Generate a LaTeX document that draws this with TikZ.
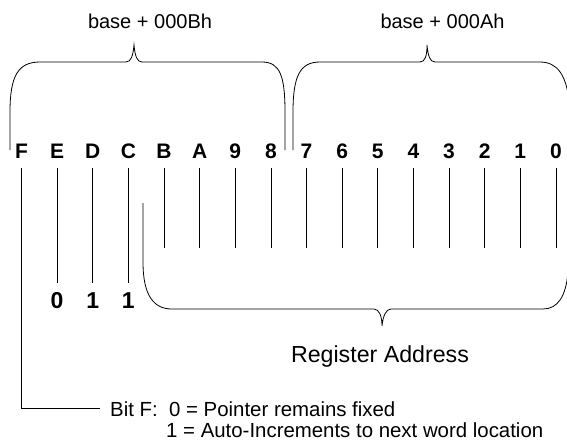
\documentclass[tikz,border=0pt]{standalone}
\usepackage{fontspec}
\setmainfont{Liberation Sans}
\begin{document}
\begin{tikzpicture}[x=1pt,y=-1pt,
  line/.style={line width=0.8pt, black},
  bitlbl/.style={font=\fontsize{21}{24}\selectfont\bfseries, anchor=base, inner sep=0pt},
  vallbl/.style={font=\fontsize{23}{26}\selectfont\bfseries, anchor=base, inner sep=0pt},
  lbl/.style={font=\fontsize{20}{24}\selectfont, inner sep=0pt},
  notelbl/.style={font=\fontsize{20.4}{24}\selectfont, inner sep=0pt, anchor=base west},
  biglbl/.style={font=\fontsize{23.2}{26}\selectfont, inner sep=0pt, anchor=base},
]
\useasboundingbox (0,0) rectangle (567,440);
\clip (0,0) rectangle (567,440);
% bit labels
\foreach \b [count=\i from 0] in {F,E,D,C,B,A,9,8,7,6,5,4,3,2,1,0} {
  \node[bitlbl] (b\i) at ({21.5+35.63*\i},158) {\b};
}
\coordinate (ytop) at (0,168);
\coordinate (yfix) at (0,283);
\coordinate (yreg) at (0,248);
\coordinate (vbase) at (0,308);
\coordinate (fend) at (100,408);
% value digits
\node[vallbl] (v1) at (b1 |- vbase) {0};
\node[vallbl] (v2) at (b2 |- vbase) {1};
\node[vallbl] (v3) at (b3 |- vbase) {1};
% bit lines
\draw[line] (b0 |- ytop) -- (b0 |- fend) -- (fend);
\foreach \i in {1,2,3} { \draw[line] (b\i |- ytop) -- (b\i |- yfix); }
\foreach \i in {4,...,15} { \draw[line] (b\i |- ytop) -- (b\i |- yreg); }
% upper braces
\draw[line] (10,150) -- (10,112) .. controls (10,76) and (18,62) .. (40,62)
  -- (126,62) .. controls (131,62) and (133,56) .. (134,45)
  .. controls (135,56) and (137,62) .. (142,62)
  -- (262,62) .. controls (280,62) and (285,76) .. (285,112) -- (285,150);
\draw[line] (293,150) -- (293,112) .. controls (293,76) and (300,62) .. (320,62)
  -- (420,62) .. controls (425,62) and (427,56) .. (427,45)
  .. controls (428,56) and (430,62) .. (435,62)
  -- (540,62) .. controls (558,62) and (566,76) .. (569,100);
% lower brace
\draw[line] (143,203) -- (143,262) .. controls (143,296) and (154,309) .. (172,309)
  -- (374,309) .. controls (379,309) and (382,316) .. (382,326)
  .. controls (383,316) and (386,309) .. (391,309)
  -- (543,309) .. controls (558,309) and (566,296) .. (568,272);
% labels
\node[lbl, anchor=base] (hiaddr) at (150,28) {base + 000Bh};
\node[lbl, anchor=base] (loaddr) at (442.5,28) {base + 000Ah};
\node[biglbl] (reg) at (380,362) {Register Address};
\node[notelbl] (bitf) at (110,416) {Bit F:\ \ 0 = Pointer remains fixed};
\node[notelbl] (auto) at (166,437) {1 = Auto-Increments to next word location};
\end{tikzpicture}
\end{document}
